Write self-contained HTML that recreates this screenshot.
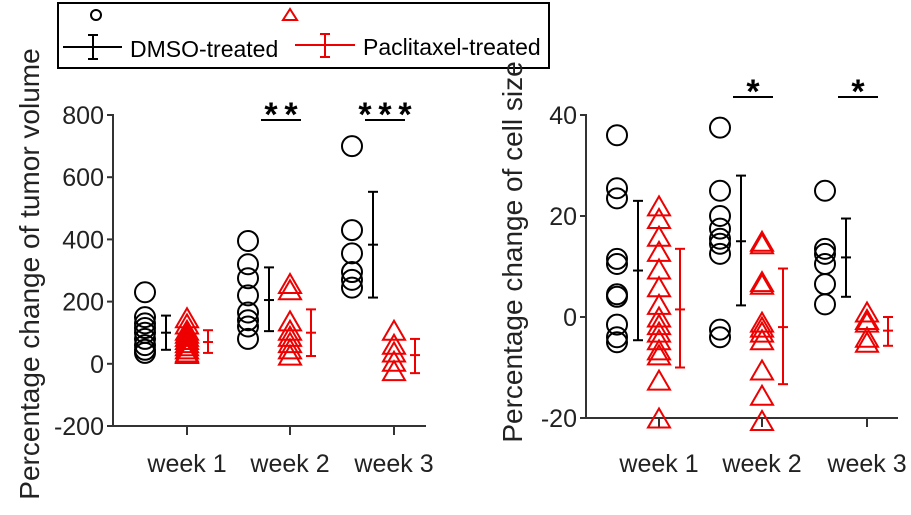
<!DOCTYPE html>
<html><head><meta charset="utf-8"><style>
body{margin:0;background:#fff}
svg{display:block;font-family:"Liberation Sans",sans-serif}
</style></head><body>
<svg id="c" width="911" height="515" viewBox="0 0 911 515" xmlns="http://www.w3.org/2000/svg">
<g>
<rect x="58" y="3" width="491" height="65" fill="#fff" stroke="#000" stroke-width="2"/>
<circle cx="96" cy="15" r="5" fill="none" stroke="#000" stroke-width="2"/>
<line x1="63" y1="47" x2="122" y2="47" stroke="#000" stroke-width="2"/>
<line x1="93" y1="35" x2="93" y2="59" stroke="#000" stroke-width="2"/>
<line x1="88" y1="35" x2="98" y2="35" stroke="#000" stroke-width="2"/>
<line x1="88" y1="59" x2="98" y2="59" stroke="#000" stroke-width="2"/>
<text x="130" y="57" font-size="23">DMSO-treated</text>
<polygon points="290,9 283,20 297,20" fill="none" stroke="#e00" stroke-width="2"/>
<line x1="295" y1="45" x2="355" y2="45" stroke="#e00" stroke-width="2"/>
<line x1="325" y1="34" x2="325" y2="57" stroke="#e00" stroke-width="2"/>
<line x1="320" y1="34" x2="330" y2="34" stroke="#e00" stroke-width="2"/>
<line x1="320" y1="57" x2="330" y2="57" stroke="#e00" stroke-width="2"/>
<text x="363" y="55" font-size="23">Paclitaxel-treated</text>
</g>
<g id="p1"></g>
<g id="p2"></g>
</svg>
<script>
const categories = ["week 1","week 2","week 3"];
const tumorDmso = [[230,150,130,115,100,80,60,45,35],[395,320,275,220,165,140,120,80],[700,430,355,295,270,245]];
const tumorPac = [[140,120,100,90,80,70,60,50,40,30,25],[250,230,130,100,80,60,40,20],[100,55,30,0,-30]];
const tumorDmsoMean = [100,205,383];
const tumorDmsoLo = [45,105,213];
const tumorDmsoHi = [155,310,553];
const tumorPacMean = [70,100,28];
const tumorPacLo = [35,25,-30];
const tumorPacHi = [108,175,80];
const tumorTicks = [-200,0,200,400,600,800];
const tumorSig = ["","**","***"];
const cellDmso = [[36,25.5,23.5,11.5,10.5,4.5,4,-1.5,-4,-5],[37.5,25,20,17.5,15.5,14.5,12.5,-2.5,-4],[25,13.5,12.5,10.5,6.5,2.5]];
const cellPac = [[21.5,19,15.5,12.5,9,5.5,2,-0.5,-2,-3.5,-5,-7,-8,-13,-20.5],[14.5,14,6.5,6,-1.5,-2.5,-3.5,-5,-11,-16,-21],[0.5,-1,-1.5,-4.5,-5.5]];
const cellDmsoMean = [9.2,15,11.8];
const cellDmsoLo = [-4.6,2.3,4];
const cellDmsoHi = [23,28,19.5];
const cellPacMean = [1.5,-2,-2.7];
const cellPacLo = [-10,-13.3,-5.7];
const cellPacHi = [13.5,9.6,0];
const cellTicks = [-20,0,20,40];
const cellSig = ["","*","*"];

const NS="http://www.w3.org/2000/svg";
function mk(p,t,a){const e=document.createElementNS(NS,t);for(const k in a)e.setAttribute(k,a[k]);p.appendChild(e);return e;}

function panel(g,cfg){
  const y=v=>cfg.y0+(v-cfg.vmin)/(cfg.vmax-cfg.vmin)*(cfg.y1-cfg.y0);
  const x=i=>cfg.tx[i];
  const ax=mk(g,'path',{d:`M${cfg.ax} ${cfg.ytop-1} V${cfg.y0} H${cfg.axr}`,fill:'none',stroke:'#333','stroke-width':2});
  
  
  cfg.ticks.forEach(t=>{
    mk(g,'line',{x1:cfg.ax-6,x2:cfg.ax,y1:y(t),y2:y(t),stroke:'#333','stroke-width':2});
    const tx=mk(g,'text',{x:cfg.ax-9,y:y(t)+9,'font-size':25,'text-anchor':'end',fill:'#222'});
    tx.textContent=t;
    
    
  });
  categories.forEach((c,i)=>{
    mk(g,'line',{x1:x(i),x2:x(i),y1:cfg.y0,y2:cfg.y0+9,stroke:'#333','stroke-width':2});
    const tx=mk(g,'text',{x:x(i),y:472,'font-size':25,'text-anchor':'middle',fill:'#222'});
    tx.textContent=c;
    
    
  });
  const tt=mk(g,'text',{x:0,y:0,'font-size':28,'text-anchor':'middle',fill:'#222',transform:`translate(${cfg.titleX},${cfg.titleY}) rotate(-90)`});
  tt.textContent=cfg.title;
  
  
  function eb(cx,m,lo,hi,col){
    const gg=mk(g,'g',{stroke:col,'stroke-width':2});
    
    
    mk(gg,'line',{x1:cx,x2:cx,y1:y(lo),y2:y(hi)});
    [lo,hi,m].forEach(v=>mk(gg,'line',{x1:cx-5,x2:cx+5,y1:y(v),y2:y(v)}));
  }
  categories.forEach((c,i)=>{
    cfg.d[i].forEach(v=>{
      const e=mk(g,'circle',{cx:x(i)-42,cy:y(v),r:10,fill:'none',stroke:'#000','stroke-width':2});
      
      
    });
    cfg.p[i].forEach(v=>{
      const cx=x(i),cy=y(v);
      const e=mk(g,'polygon',{points:`${cx},${cy-12} ${cx-11},${cy+7} ${cx+11},${cy+7}`,fill:'none',stroke:'#e00','stroke-width':2});
      
      
    });
    eb(x(i)-21,cfg.dm[i],cfg.dl[i],cfg.dh[i],'#000');
    eb(x(i)+21,cfg.pm[i],cfg.pl[i],cfg.ph[i],'#e00');
    if(cfg.sig[i]){
      mk(g,'line',{x1:x(i)-29,x2:x(i)+11,y1:cfg.sigY,y2:cfg.sigY,stroke:'#000','stroke-width':2});
      const s=mk(g,'text',{x:x(i)-9,y:cfg.sigY+6,'font-size':34,'font-weight':'bold','text-anchor':'middle'});
      s.textContent=cfg.sig[i].split('').join('\u2009');
      
      
    }
  });
}
panel(document.getElementById('p1'),{vmin:-200,vmax:800,y0:426,y1:115,ytop:115,ax:113,axr:426,tx:[187,290,394],
 ticks:tumorTicks,title:'Percentage change of tumor volume',titleX:39,titleY:274,sigY:120,sig:tumorSig,
 d:tumorDmso,p:tumorPac,dm:tumorDmsoMean,dl:tumorDmsoLo,dh:tumorDmsoHi,pm:tumorPacMean,pl:tumorPacLo,ph:tumorPacHi});
panel(document.getElementById('p2'),{vmin:-20,vmax:40,y0:418,y1:115,ytop:115,ax:586,axr:898,tx:[659,762,867],
 ticks:cellTicks,title:'Percentage change of cell size',titleX:522,titleY:252,sigY:97,sig:cellSig,
 d:cellDmso,p:cellPac,dm:cellDmsoMean,dl:cellDmsoLo,dh:cellDmsoHi,pm:cellPacMean,pl:cellPacLo,ph:cellPacHi});
</script>
</body></html>
